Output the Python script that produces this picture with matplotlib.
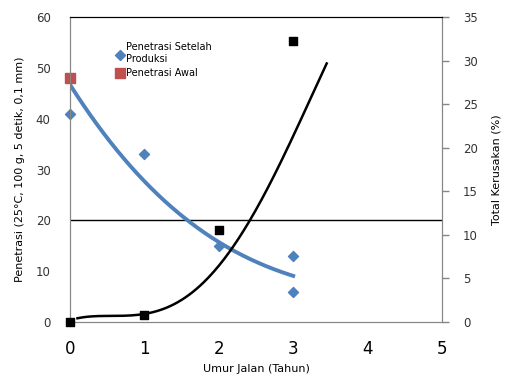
import numpy as np
import matplotlib.pyplot as plt

# data
umur_setelah = [0, 1, 2, 3, 3]
pen_setelah = [41, 33, 15, 13, 6]
umur_awal = [0]
pen_awal = [48]
umur_rusak = [0, 1, 2, 3]
kerusakan = [0, 0.75, 10.6, 32.3]

# trend lines
tren_pen_x = [0, 0.54, 0.94, 1.57, 2.19, 3.0]
tren_pen_y = [46.6, 35.8, 28.3, 20.1, 14.2, 9.05]
tren_rusak_x = [0.1, 0.5, 0.81, 1.01, 1.34, 1.61, 1.88, 2.06, 2.24, 2.44, 2.82, 3.18, 3.45]
tren_rusak_y = [0.5, 0.55, 0.69, 1.0, 1.95, 3.3, 5.2, 7.1, 9.2, 11.7, 18.4, 24.7, 29.6]

biru = '#4F81BD'
merah = '#C0504D'
abu = '#868686'

fig = plt.figure(figsize=(5.26, 3.85), dpi=100)
ax = fig.add_axes([0.1331, 0.1636, 0.7072, 0.7922])
ax2 = ax.twinx()

# smooth the read trend points
c1 = np.polyfit(tren_pen_x, tren_pen_y, 3)
x1 = np.linspace(tren_pen_x[0], tren_pen_x[-1], 200)
ax.plot(x1, np.polyval(c1, x1), color=biru, lw=2.8, zorder=2)
c2 = np.polyfit(tren_rusak_x, tren_rusak_y, 4)
x2 = np.linspace(tren_rusak_x[0], tren_rusak_x[-1], 200)
ax2.plot(x2, np.polyval(c2, x2), color='black', lw=1.8, zorder=2)

ax.axhline(20, color='black', lw=1.0, zorder=1)

ax.scatter(umur_setelah, pen_setelah, marker='D', s=26, color=biru, zorder=3,
           label='Penetrasi Setelah\nProduksi', clip_on=False)
ax.scatter(umur_awal, pen_awal, marker='s', s=48, color=merah, zorder=3,
           label='Penetrasi Awal', clip_on=False)
ax2.scatter(umur_rusak, kerusakan, marker='s', s=40, color='black', zorder=3,
            clip_on=False)

ax.set_xlim(0, 5)
ax.set_ylim(0, 60)
ax2.set_ylim(0, 35)
ax.set_xticks(range(6))
ax.set_yticks(range(0, 61, 10))
ax2.set_yticks(range(0, 36, 5))

ax.tick_params(axis='x', length=0, pad=13, labelsize=12)
ax.tick_params(axis='y', length=0, pad=14, labelsize=8.5, colors='#333333')
ax2.tick_params(axis='y', length=5, width=1, color=abu, pad=10, labelsize=8.5,
                labelcolor='#333333')

for s in ['left', 'bottom', 'right']:
    ax.spines[s].set_color(abu)
    ax2.spines[s].set_color(abu)
ax.spines['top'].set_color('black')
ax2.spines['top'].set_color('black')

ax.set_xlabel('Umur Jalan (Tahun)', fontsize=8, labelpad=4)
ax.set_ylabel('Penetrasi (25°C, 100 g, 5 detik, 0,1 mm)', fontsize=8, labelpad=8)
ax2.set_ylabel('Total Kerusakan (%)', fontsize=8, labelpad=10)

ax.legend(loc='upper left', bbox_to_anchor=(0.11, 0.93), frameon=False,
          fontsize=7, handletextpad=0.1, handlelength=1.0, labelspacing=0.4,
          borderaxespad=0)

fig.savefig('out.png', dpi=100)
